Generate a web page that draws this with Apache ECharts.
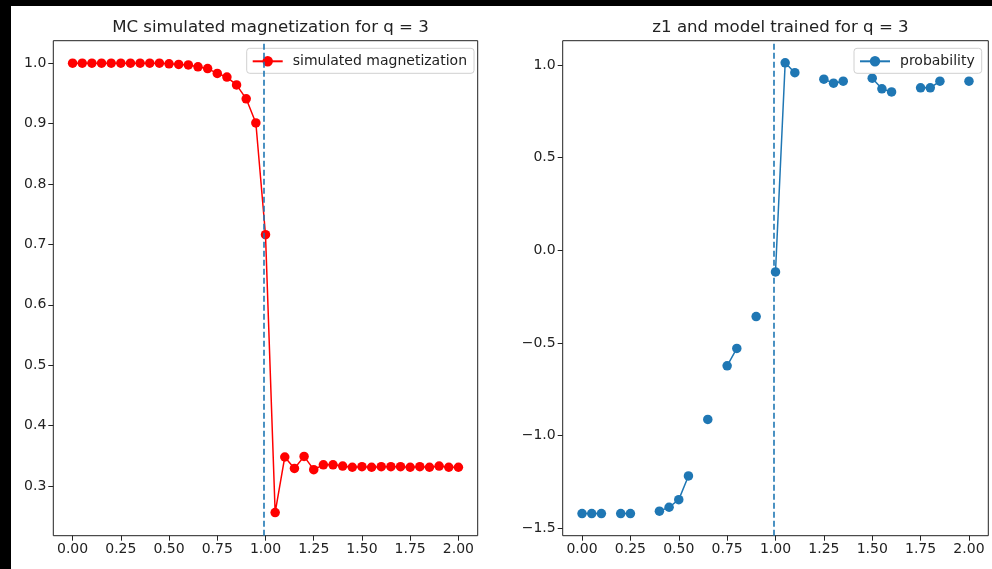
<!DOCTYPE html>
<html>
<head>
<meta charset="utf-8">
<script src="https://cdn.jsdelivr.net/npm/echarts@6/dist/echarts.min.js"></script>
<style>
html,body{margin:0;padding:0;background:#000;}
#c{width:992px;height:569px;}
</style>
</head>
<body>
<div id="c"></div>
<script>
// x values (temperature grid)
const temps = [0.00,0.05,0.10,0.15,0.20,0.25,0.30,0.35,0.40,0.45,0.50,0.55,0.60,0.65,0.70,0.75,0.80,0.85,0.90,0.95,
               1.00,1.05,1.10,1.15,1.20,1.25,1.30,1.35,1.40,1.45,1.50,1.55,1.60,1.65,1.70,1.75,1.80,1.85,1.90,1.95,2.00];
// left panel: simulated magnetization
const magnetization = [1.000,1.000,1.000,1.000,1.000,1.000,1.000,1.000,1.000,1.000,0.999,0.998,0.997,0.994,0.991,0.983,0.977,0.964,0.941,0.901,
                       0.716,0.256,0.348,0.329,0.349,0.327,0.335,0.335,0.333,0.331,0.332,0.331,0.332,0.332,0.332,0.331,0.332,0.331,0.333,0.331,0.331];
// right panel: probability (null = missing)
const probability = [-1.421,-1.421,-1.421,null,-1.421,-1.421,null,null,-1.408,-1.387,-1.346,-1.218,null,-0.913,null,-0.624,-0.530,null,-0.358,null,
                     -0.117,1.011,0.958,null,null,0.923,0.901,0.912,null,null,0.928,0.871,0.854,null,null,0.876,0.876,0.912,null,null,0.912];
const xTicks = [0,0.25,0.5,0.75,1.0,1.25,1.5,1.75,2.0];
const leftYTicks = [0.3,0.4,0.5,0.6,0.7,0.8,0.9,1.0];
const rightYTicks = [-1.5,-1.0,-0.5,0.0,0.5,1.0];
const criticalT = 0.995;
const titles = ['MC simulated magnetization for q = 3','z1 and model trained for q = 3'];
const seriesNames = ['simulated magnetization','probability'];

const FONT = 'DejaVu Sans';
const fmt = (d) => (v) => { const s = Math.abs(v).toFixed(d); return (v < -1e-9 ? '\u2212' : '') + s; };

function xAxis(idx){
  return {
    type:'value', gridIndex:idx, min:-0.1, max:2.1,
    axisLine:{show:false, onZero:false}, splitLine:{show:false},
    axisTick:{show:true, length:5, inside:false, customValues:xTicks, lineStyle:{color:'#222', width:1}},
    axisLabel:{customValues:xTicks, formatter:fmt(2), color:'#222', fontFamily:FONT, fontSize:14, margin:7}
  };
}
function yAxis(idx, min, max, ticks){
  return {
    type:'value', gridIndex:idx, min:min, max:max,
    axisLine:{show:false, onZero:false}, splitLine:{show:false},
    axisTick:{show:true, length:5, inside:false, customValues:ticks, lineStyle:{color:'#222', width:1}},
    axisLabel:{customValues:ticks, formatter:fmt(1), color:'#222', fontFamily:FONT, fontSize:14, margin:7}
  };
}
const vline = {
  silent:true, symbol:'none', label:{show:false},
  lineStyle:{type:[6,3], color:'#1f77b4', width:1.6},
  data:[{xAxis:criticalT}]
};

const chart = echarts.init(document.getElementById('c'), null, {renderer:'canvas'});
chart.setOption({
  backgroundColor:'#ffffff',
  animation:false,
  graphic:[
    {type:'rect', left:0, top:0, shape:{width:11, height:569}, style:{fill:'#000'}, z:100},
    {type:'rect', left:0, top:0, shape:{width:992, height:6}, style:{fill:'#000'}, z:100}
  ],
  title:[
    {text:titles[0], left:265.5, top:14, textAlign:'center', textStyle:{fontFamily:FONT, fontSize:16.6, fontWeight:'normal', color:'#222'}},
    {text:titles[1], left:775.5, top:14, textAlign:'center', textStyle:{fontFamily:FONT, fontSize:16.6, fontWeight:'normal', color:'#222'}}
  ],
  grid:[
    {left:53.3, top:40.7, width:424.4, height:495, show:true, borderColor:'#222', borderWidth:1, backgroundColor:'transparent'},
    {left:562.7, top:40.7, width:425.6, height:495, show:true, borderColor:'#222', borderWidth:1, backgroundColor:'transparent'}
  ],
  xAxis:[xAxis(0), xAxis(1)],
  yAxis:[yAxis(0, 0.2177, 1.0372, leftYTicks), yAxis(1, -1.5405, 1.1305, rightYTicks)],
  legend:[
    {data:[seriesNames[0]], left:246.7, top:48.3, padding:[6,7,5,5], itemWidth:30, itemHeight:13, itemGap:5,
     borderColor:'#d0d0d0', borderWidth:1, borderRadius:3, backgroundColor:'rgba(255,255,255,0.85)',
     textStyle:{fontFamily:FONT, fontSize:14, color:'#222', padding:[0,0,0,5]}},
    {data:[seriesNames[1]], right:10.3, top:48.3, padding:[6,7,5,5], itemWidth:30, itemHeight:13, itemGap:5,
     borderColor:'#d0d0d0', borderWidth:1, borderRadius:3, backgroundColor:'rgba(255,255,255,0.85)',
     textStyle:{fontFamily:FONT, fontSize:14, color:'#222', padding:[0,0,0,5]}}
  ],
  series:[
    {name:seriesNames[0], type:'line', xAxisIndex:0, yAxisIndex:0,
     data:temps.map((t,i)=>[t, magnetization[i]]),
     symbol:'circle', symbolSize:9.5, showAllSymbol:true,
     lineStyle:{color:'#ff0000', width:1.5}, itemStyle:{color:'#ff0000'},
     markLine:vline, z:3},
    {name:seriesNames[1], type:'line', xAxisIndex:1, yAxisIndex:1,
     data:temps.map((t,i)=>[t, probability[i]]),
     connectNulls:false,
     symbol:'circle', symbolSize:9.5, showAllSymbol:true,
     lineStyle:{color:'#1f77b4', width:1.5}, itemStyle:{color:'#1f77b4'},
     markLine:vline, z:3}
  ]
});
</script>
</body>
</html>
